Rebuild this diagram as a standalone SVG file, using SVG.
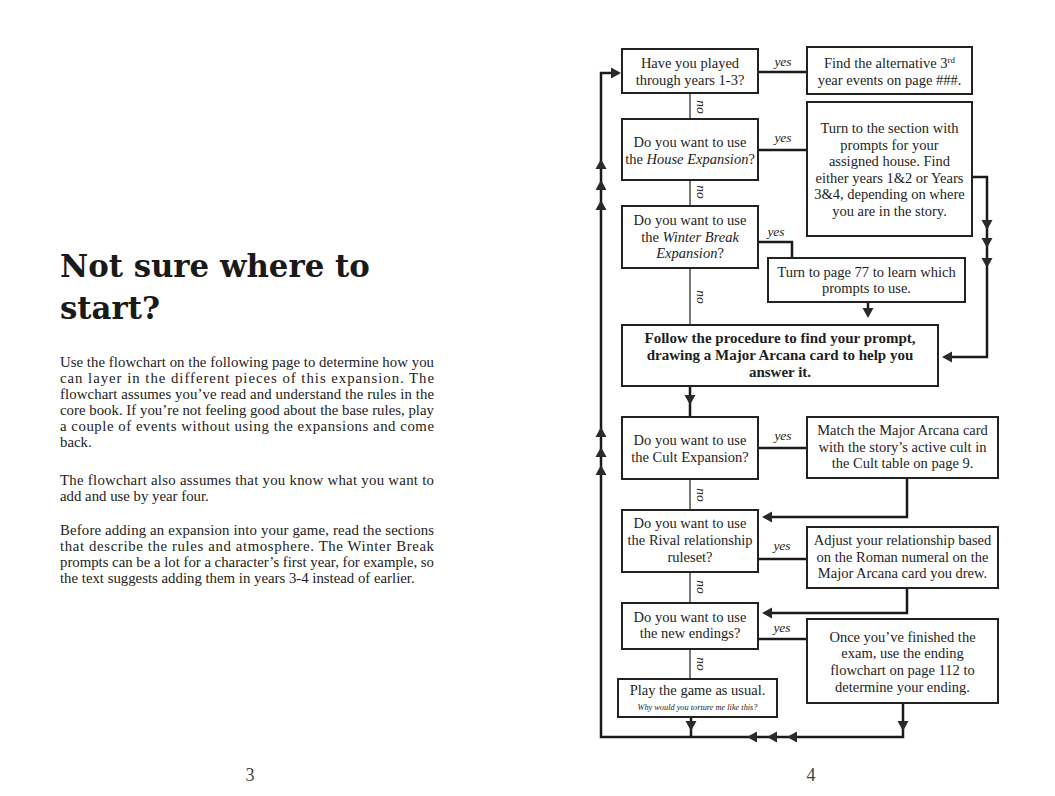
<svg xmlns="http://www.w3.org/2000/svg" xmlns:xlink="http://www.w3.org/1999/xlink" width="1055" height="796" viewBox="0 0 1055 796">
<style>
.box{fill:#fff;stroke:#222;stroke-width:2}
.t{font-family:"Liberation Serif","Times New Roman",serif;font-size:14.5px;fill:#1e1e1e;text-anchor:middle}
.b{font-weight:bold;font-size:15px}
.i{font-style:italic}
.sm{font-size:8.3px}
.lbl{font-family:"Liberation Serif","Times New Roman",serif;font-style:italic;font-size:13.5px;fill:#222;text-anchor:middle}
.ln{stroke:#1a1a1a;stroke-width:2.5;fill:none}
.no{stroke:#7a7a7a;stroke-width:2;fill:none}
.ah{fill:#2a2a2a}
.h{font-family:"DejaVu Serif",serif;font-weight:bold;font-size:30.8px;fill:#1a1a1a}
.p{font-family:"Liberation Serif","Times New Roman",serif;font-size:14.8px;fill:#222}
.pg{font-family:"Liberation Serif","Times New Roman",serif;font-size:18px;fill:#444;text-anchor:middle}
</style>
<defs>
<path id="ad" class="ah" d="M-5.5,-5 L5.5,-5 L0,5 Z"/>
</defs>
<rect width="1055" height="796" fill="#fff"/>

<g id="left-page">
<text class="h" x="60" y="277">Not sure where to</text>
<text class="h" x="60" y="319">start?</text>
<text class="p" x="60" y="367" textLength="374" lengthAdjust="spacing">Use the flowchart on the following page to determine how you</text>
<text class="p" x="60" y="383" textLength="374" lengthAdjust="spacing">can layer in the different pieces of this expansion. The</text>
<text class="p" x="60" y="399" textLength="374" lengthAdjust="spacing">flowchart assumes you’ve read and understand the rules in the</text>
<text class="p" x="60" y="415" textLength="374" lengthAdjust="spacing">core book. If you’re not feeling good about the base rules, play</text>
<text class="p" x="60" y="431" textLength="374" lengthAdjust="spacing">a couple of events without using the expansions and come</text>
<text class="p" x="60" y="447">back.</text>
<text class="p" x="60" y="485" textLength="374" lengthAdjust="spacing">The flowchart also assumes that you know what you want to</text>
<text class="p" x="60" y="501">add and use by year four.</text>
<text class="p" x="60" y="535" textLength="374" lengthAdjust="spacing">Before adding an expansion into your game, read the sections</text>
<text class="p" x="60" y="551" textLength="374" lengthAdjust="spacing">that describe the rules and atmosphere. The Winter Break</text>
<text class="p" x="60" y="567" textLength="374" lengthAdjust="spacing">prompts can be a lot for a character’s first year, for example, so</text>
<text class="p" x="60" y="583">the text suggests adding them in years 3-4 instead of earlier.</text>
<text class="pg" x="250" y="781">3</text>
<text class="pg" x="811" y="781">4</text>
</g>

<g id="connectors">
<path class="no" d="M690,93 V119 M690,180 V206 M690,268 V325 M690,479 V510 M690,572 V603 M690,649 V679"/>
<path class="ln" d="M903,703 V737 H601 V73 H613"/>
<path class="ln" d="M691,717 V737"/>
<path class="ln" d="M758,72 H807"/>
<path class="ln" d="M758,150 H807"/>
<path class="ln" d="M758,242 H792 V258"/>
<path class="ln" d="M972,177 H987 V357 H948"/>
<path class="ln" d="M868,302 V312"/>
<path class="ln" d="M690,386 V417"/>
<path class="ln" d="M758,448 H807"/>
<path class="ln" d="M907,478 V517 H768"/>
<path class="ln" d="M758,559 H807"/>
<path class="ln" d="M907,588 V613 H768"/>
<path class="ln" d="M758,639 H807"/>
<use xlink:href="#ad" transform="translate(616,73) rotate(-90)"/>
<use xlink:href="#ad" transform="translate(601,164) rotate(180)"/>
<use xlink:href="#ad" transform="translate(601,185) rotate(180)"/>
<use xlink:href="#ad" transform="translate(601,205) rotate(180)"/>
<use xlink:href="#ad" transform="translate(601,432) rotate(180)"/>
<use xlink:href="#ad" transform="translate(601,452) rotate(180)"/>
<use xlink:href="#ad" transform="translate(601,470) rotate(180)"/>
<use xlink:href="#ad" transform="translate(987,225)"/>
<use xlink:href="#ad" transform="translate(987,243)"/>
<use xlink:href="#ad" transform="translate(987,263)"/>
<use xlink:href="#ad" transform="translate(947,357) rotate(90)"/>
<use xlink:href="#ad" transform="translate(868,313)"/>
<use xlink:href="#ad" transform="translate(690,400)"/>
<use xlink:href="#ad" transform="translate(767,517) rotate(90)"/>
<use xlink:href="#ad" transform="translate(767,613) rotate(90)"/>
<use xlink:href="#ad" transform="translate(691,726)"/>
<use xlink:href="#ad" transform="translate(903,726)"/>
<use xlink:href="#ad" transform="translate(752,737) rotate(90)"/>
<use xlink:href="#ad" transform="translate(772,737) rotate(90)"/>
<use xlink:href="#ad" transform="translate(792,737) rotate(90)"/>
<text class="lbl" x="783" y="66">yes</text>
<text class="lbl" x="783" y="142">yes</text>
<text class="lbl" x="776" y="236">yes</text>
<text class="lbl" x="783" y="440">yes</text>
<text class="lbl" x="782" y="550">yes</text>
<text class="lbl" x="782" y="632">yes</text>
<text class="lbl" transform="translate(697,107) rotate(90)">no</text>
<text class="lbl" transform="translate(697,192) rotate(90)">no</text>
<text class="lbl" transform="translate(697,297) rotate(90)">no</text>
<text class="lbl" transform="translate(697,495) rotate(90)">no</text>
<text class="lbl" transform="translate(697,587) rotate(90)">no</text>
<text class="lbl" transform="translate(697,664) rotate(90)">no</text>
</g>

<g id="q-years">
<rect class="box" x="622" y="49" width="136" height="44"/>
<text class="t" x="690" y="68">Have you played</text>
<text class="t" x="690" y="85">through years 1-3?</text>
</g>
<g id="a-years">
<rect class="box" x="807" y="47" width="165" height="47"/>
<text class="t" x="889.5" y="68">Find the alternative 3<tspan dy="-5" font-size="9">rd</tspan></text>
<text class="t" x="889.5" y="85">year events on page ###.</text>
</g>
<g id="q-house">
<rect class="box" x="622" y="119" width="136" height="61"/>
<text class="t" x="690" y="147">Do you want to use</text>
<text class="t" x="690" y="164">the <tspan class="i">House Expansion</tspan>?</text>
</g>
<g id="a-house">
<rect class="box" x="807" y="102" width="165" height="134"/>
<text class="t" x="889.5" y="133">Turn to the section with</text>
<text class="t" x="889.5" y="150">prompts for your</text>
<text class="t" x="889.5" y="166">assigned house. Find</text>
<text class="t" x="889.5" y="183">either years 1&amp;2 or Years</text>
<text class="t" x="889.5" y="199">3&amp;4, depending on where</text>
<text class="t" x="889.5" y="216">you are in the story.</text>
</g>
<g id="q-winter">
<rect class="box" x="622" y="206" width="136" height="62"/>
<text class="t" x="690" y="225">Do you want to use</text>
<text class="t" x="690" y="242">the <tspan class="i">Winter Break</tspan></text>
<text class="t" x="690" y="258"><tspan class="i">Expansion</tspan>?</text>
</g>
<g id="a-winter">
<rect class="box" x="768" y="258" width="197" height="44"/>
<text class="t" x="866.5" y="277">Turn to page 77 to learn which</text>
<text class="t" x="866.5" y="293">prompts to use.</text>
</g>
<g id="procedure">
<rect class="box" x="622" y="325" width="316" height="61"/>
<text class="t b" x="780" y="343">Follow the procedure to find your prompt,</text>
<text class="t b" x="780" y="360">drawing a Major Arcana card to help you</text>
<text class="t b" x="780" y="377">answer it.</text>
</g>
<g id="q-cult">
<rect class="box" x="622" y="417" width="136" height="62"/>
<text class="t" x="690" y="445">Do you want to use</text>
<text class="t" x="690" y="462">the Cult Expansion?</text>
</g>
<g id="a-cult">
<rect class="box" x="807" y="417" width="191" height="61"/>
<text class="t" x="902.5" y="435">Match the Major Arcana card</text>
<text class="t" x="902.5" y="452">with the story’s active cult in</text>
<text class="t" x="902.5" y="468">the Cult table on page 9.</text>
</g>
<g id="q-rival">
<rect class="box" x="622" y="510" width="136" height="62"/>
<text class="t" x="690" y="528">Do you want to use</text>
<text class="t" x="690" y="545">the Rival relationship</text>
<text class="t" x="690" y="562">ruleset?</text>
</g>
<g id="a-rival">
<rect class="box" x="807" y="527" width="191" height="61"/>
<text class="t" x="902.5" y="545">Adjust your relationship based</text>
<text class="t" x="902.5" y="562">on the Roman numeral on the</text>
<text class="t" x="902.5" y="578">Major Arcana card you drew.</text>
</g>
<g id="q-endings">
<rect class="box" x="622" y="603" width="136" height="46"/>
<text class="t" x="690" y="622">Do you want to use</text>
<text class="t" x="690" y="638">the new endings?</text>
</g>
<g id="a-endings">
<rect class="box" x="807" y="619" width="191" height="84"/>
<text class="t" x="902.5" y="642">Once you’ve finished the</text>
<text class="t" x="902.5" y="658">exam, use the ending</text>
<text class="t" x="902.5" y="675">flowchart on page 112 to</text>
<text class="t" x="902.5" y="692">determine your ending.</text>
</g>
<g id="usual">
<rect class="box" x="618" y="679" width="159" height="38"/>
<text class="t" x="697.5" y="695">Play the game as usual.</text>
<text class="t i sm" x="697.5" y="710">Why would you torture me like this?</text>
</g>
</svg>
